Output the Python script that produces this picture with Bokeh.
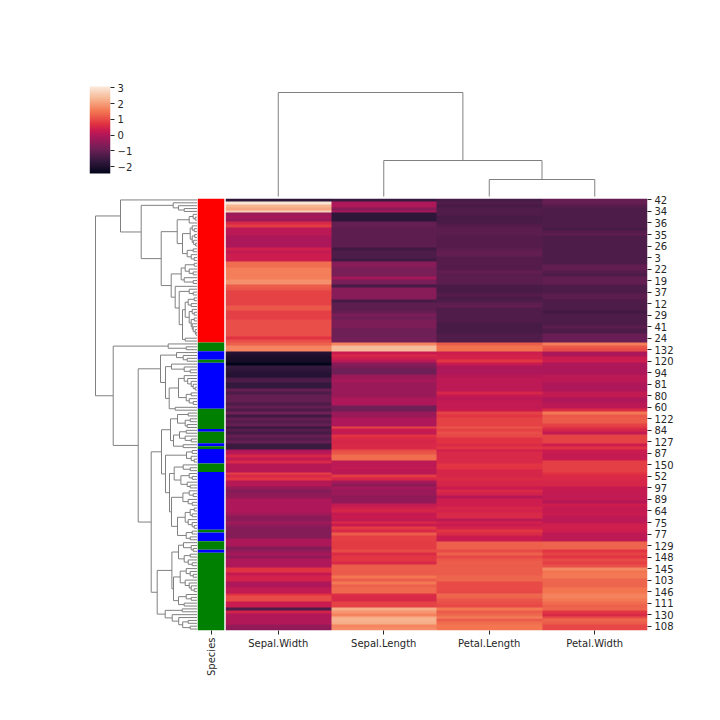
from bokeh.plotting import figure
from bokeh.layouts import column, row
from bokeh.models import Range1d, FactorRange, FixedTicker, LinearColorMapper
from bokeh.embed import file_html
from bokeh.resources import INLINE
import numpy as np
import math

columns = ["Sepal.Width", "Sepal.Length", "Petal.Length", "Petal.Width"]

sepal_width = [
 -1.75,3.0,2.3,2.1,2.7,-0.3,-0.15,-0.3,0.55,0.8,
 0.1,0.1,0.1,-0.1,-0.1,-0.1,-0.1,0.4,0.2,0.35,
 .35,.35,1.4,1.4,1.6,1.6,1.6,1.6,1.85,1.85,
 1.2,1.1,.9,.9,.9,.9,.9,1.15,1.15,.85,
 .85,.85,1.05,1.05,1.05,1.05,1.05,1.05,.7,1.05,
 1.25,1.7,1.7,-1.9,-2.0,-2.1,-2.1,-2.43,-1.65,-1.75,
 -1.85,-1.9,-1.35,-1.3,-1.65,-1.65,-1.0,-1.3,-1.0,-1.0,
 -1.0,-1.3,-1.0,-1.3,-.85,-1.5,-1.05,-1.2,-1.0,-1.6,
 -1.2,-1.4,-1.0,-1.2,-1.0,-1.55,-1.55,-.1,.1,.5,
 .2,.55,.05,.05,.05,.85,.55,.75,.05,.05,
 -.35,-.6,-.45,-.4,-.05,-.05,-.05,-.05,-.05,-.2,
 -.5,-.5,-.2,-.4,-.6,-.6,-.6,-.6,-.1,-.1,
 -.1,-.6,-.4,-.15,-.4,-.05,-.05,-.05,.7,.7,
 .25,.45,.45,-.05,-.05,.2,.2,.65,1.0,1.0,
 .3,.3,-1.3,.45,0,0,0,0,-.35,-.45]
sepal_length = [
 -1.6,-.05,-.05,-.5,-.2,-1.75,-1.75,-1.75,-1.0,-1.0,
 -1.1,-1.1,-1.1,-1.1,-1.1,-1.1,-1.1,-1.5,-1.3,-1.3,
 -1.3,-1.5,-.55,-.55,-.75,-.75,-.75,-.2,-.75,-.75,
 -1.4,-.55,-.55,-.55,-.55,-1.4,-1.1,-1.1,-1.1,-1.0,
 -.7,-.9,-.7,-.7,-.7,-.9,-.9,-.9,-.85,-.85,
 1.7,2.4,2.4,.3,.55,.4,.1,-.55,-.7,-.9,
 -.9,-.3,-.25,-.15,-.3,-.3,-.3,-.3,-.3,-.05,
 -.05,-.05,-.85,-.85,-.3,-.3,-.05,-.05,-.05,.9,
 .3,.2,.7,.55,.5,.55,.55,1.0,1.1,1.4,
 1.4,.15,.15,.2,.1,.1,.8,.5,-.15,-.45,
 -.2,-.3,-.3,-.45,-.4,-.4,.2,.4,.5,.25,
 .3,.2,.6,.3,.8,.55,1.2,.85,.85,.8,
 .8,.8,1.0,.6,.75,.75,.55,1.2,1.2,1.15,
 1.2,1.5,1.2,1.55,1.25,1.35,1.35,.65,.55,.55,
 .9,.9,2.2,1.9,1.65,2.2,2.3,2.2,1.7,1.8]
petal_length = [
 -1.39,-1.27,-1.39,-1.27,-1.27,-1.27,-1.39,-1.39,-1.34,-1.22,
 -1.16,-1.16,-1.16,-1.22,-1.22,-1.22,-1.22,-1.16,-1.05,-1.05,
 -1.22,-1.22,-1.22,-1.22,-1.22,-1.05,-1.16,-1.16,-1.16,-1.16,
 -1.34,-1.39,-1.34,-1.22,-1.34,-1.27,-1.1,-1.05,-1.27,-1.27,
 -1.27,-1.27,-1.27,-1.39,-1.39,-1.39,-1.39,-1.27,-1.27,-1.27,
 1.2,1.45,1.45,.35,.45,.45,.75,.3,-.1,-.05,
 -.05,.05,.15,.15,.15,.15,.15,.5,.25,.1,
 .25,.2,.2,.3,.9,.75,.9,.9,.9,1.1,
 .9,1.05,.95,.7,.7,.6,.75,.4,.55,.55,
 .55,.55,.75,.7,.5,.5,.5,.6,.5,.5,
 .3,.55,.45,.05,.35,.35,.35,.5,.45,.55,
 .55,.15,.45,.3,.45,.75,.6,.3,.3,1.25,
 1.25,1.25,1.0,1.25,.95,1.15,1.2,1.2,1.2,1.2,
 1.2,1.3,1.3,1.0,1.0,1.0,.95,1.35,1.3,1.1,
 1.05,.95,1.55,1.2,1.35,1.6,1.2,1.4,1.5,1.5]
petal_width = [
 -1.0,-1.0,-1.2,-1.3,-1.3,-1.3,-1.3,-1.3,-1.3,-1.3,
 -1.4,-1.2,-1.1,-1.3,-1.3,-1.3,-1.3,-1.3,-1.3,-1.3,
 -1.3,-1.3,-1.3,-1.05,-1.05,-1.2,-1.3,-1.05,-1.05,-1.05,
 -1.3,-1.3,-1.3,-1.15,-1.15,-1.3,-1.3,-1.3,-1.3,-1.45,
 -1.3,-1.3,-1.3,-1.3,-1.15,-1.3,-1.3,-.95,-.95,-.95,
 1.6,1.15,1.0,-.1,-.1,.3,.35,-.05,-.1,-.1,
 -.1,.1,.1,.1,-.05,-.05,-.05,.2,.2,-.05,
 -.05,.1,.1,.6,1.55,1.15,1.2,1.2,.9,.75,
 .5,.2,.9,.9,.9,.35,.7,.3,.3,.2,
 .3,.85,.85,.85,.85,.7,.6,.55,.5,.5,
 .25,.25,.2,.2,.2,.05,.35,.25,.25,.3,
 .15,.15,.15,.4,.4,.35,.15,.15,.15,1.3,
 1.3,1.3,.75,.9,.75,1.0,.85,1.05,1.75,1.45,
 1.55,1.55,1.3,1.3,1.3,1.5,1.5,1.65,1.65,1.55,
 1.4,1.25,1.3,.75,.55,1.0,1.3,1.2,.95,.95]

species_runs = [("setosa",50),("virginica",3),("versicolor",3),("virginica",1),("versicolor",16),
                ("virginica",7),("versicolor",1),("virginica",4),("versicolor",1),("virginica",1),
                ("versicolor",5),("virginica",3),("versicolor",20),("virginica",1),("versicolor",3),
                ("virginica",3),("versicolor",1),("virginica",27)]
species_colors = {"setosa":"#ff0000","versicolor":"#0000ff","virginica":"#008000"}

row_labels = ["42","34","36","35","26","3","22","19","37","12","29","41","24","132","120","94","81","80","60",
              "122","84","127","87","150","52","97","89","64","75","77","129","148","145","103","146","111","130","108"]

# dendrograms: [merge height, upper child, lower child]; 1 is a leaf
setosa_a = [20,[8,[4,1,[2,1,1]],1],
            [14.7,[7,[5,1,[3,1,1]],[5,[2.5,1,1],[3.5,1,[1.5,1,1]]]],
                  [10,[4,1,1],[6,1,[3,1,1]]]]]
setosa_b = [26,[16,[12,[3,1,1],[8,1,[4,1,1]]],[13,1,[4,1,1]]],
            [22,1,[18,[8,1,[4,1,1]],
                   [14.7,[12,[9,[3,1,1],[6,1,1]],
                          [8,[5,1,[3,1,1]],[6,[3,1,1],[5,1,[4,1,[2,1,[1.2,1,1]]]]]]],
                         [12,1,1]]]]]
setosa = [76.7,1,[56,[24,1,[18.7,1,[13,1,1]]],[36,setosa_a,setosa_b]]]

group_f = [36.7,[20.7,1,[14,1,[10,1,1]]],
           [31.7,[25.7,1,[13,1,[7,1,1]]],
            [28,[18.7,[13,1,[9.5,1,[6,1,[4,1,[2,1,1]]]]],[11,[6,1,1],[8,1,[4,1,1]]]],[22,1,1]]]]
group_g1 = [35.7,
            [26.7,[19.7,[9,1,1],[12,[7,1,1],[10,1,1]]],
                  [23.7,[17.7,[11,1,1],[12,1,[6,1,1]]],[14,1,1]]],
            [31.7,[10.7,[5,1,1],[6,1,[3,1,1]]],
             [27.7,[23,[14,1,[7,1,1]],[16.3,[8,1,[5,1,1]],[10,1,[7,1,1]]]],
              [25.7,[14.3,[8,1,[4,1,1]],[9,1,[5,1,1]]],
               [19.7,[12,[7,[3,1,1],[5,1,1]],[9,1,[5,1,[3,1,1]]]],[11,[5,1,1],[7,1,1]]]]]]]
group_g2 = [40,
            [25.3,[18.7,[13.7,1,[6,1,[4,1,1]]],[13,[7,1,1],[9,1,[5,1,1]]]],
                  [23.7,[17,[11,1,[7,1,[4,1,1]]],[12,1,[8,1,[6,1,[3,1,1]]]]],
                        [18.7,[11,1,[6,1,1]],[13,1,1]]]],
            [32,[15,1,1],[25,1,[18.5,1,[14.5,[9,1,1],[7,1,1]]]]]]
others = [84,[29,1,[11,1,1]],[59,group_f,[46,group_g1,group_g2]]]
row_tree = [101.7,setosa,others]
column_tree = [104,1,[36,1,[17,1,1]]]

vmin, vmax = -2.43, 3.08
colorbar_ticks = [-2,-1,0,1,2,3]
colorbar_labels = ["\u22122","\u22121","0","1","2","3"]

ROCKET_T = [0,1/7,2/7,3/7,0.5,4/7,5/7,6/7,1]
ROCKET_HEX = ["#03051a","#35193e","#701f57","#ad1759","#cb1b4f","#e13342","#f37651","#f6b48f","#faebdd"]
def make_palette(n=256):
    rgb = np.array([[int(h[i:i+2],16) for i in (1,3,5)] for h in ROCKET_HEX],float)
    ts = np.linspace(0,1,n)
    ch = [np.interp(ts,ROCKET_T,rgb[:,k]) for k in range(3)]
    return ["#%02x%02x%02x"%(int(round(a)),int(round(b)),int(round(c))) for a,b,c in zip(*ch)]
mapper = LinearColorMapper(palette=make_palette(), low=vmin, high=vmax)

GREY = "#808080"
INK = "#262626"
PAD_TOP = 6   # room above the lower row, so the first row label is not pushed down

def tree_segments(node):
    """Returns end points (height, position) of the straight pieces of a dendrogram."""
    h0, p0, h1, p1 = [], [], [], []
    counter = [0]
    def walk(n):
        if n == 1:
            counter[0] += 1
            return counter[0]-0.5, 0.0
        h, a, b = n
        pa, ha = walk(a)
        pb, hb = walk(b)
        for s in ((ha,pa,h,pa),(h,pa,h,pb),(h,pb,hb,pb)):
            h0.append(s[0]); p0.append(s[1]); h1.append(s[2]); p1.append(s[3])
        return (pa+pb)/2, h
    walk(node)
    return h0, p0, h1, p1, counter[0]

def style_axis(ax):
    ax.axis_line_color = None
    ax.major_tick_in = 0
    ax.major_tick_out = 4
    ax.minor_tick_out = 0
    ax.minor_tick_in = 0
    ax.major_tick_line_color = INK
    ax.major_label_text_color = INK
    ax.major_label_text_font = "DejaVu Sans"
    ax.major_label_text_font_size = "10px"
    ax.major_label_standoff = 3

# colour bar: its frame is as tall as the dendrogram's, since a row lines up its frames
px_per_unit = 87 / (vmax - vmin)
cb = figure(output_backend="svg", toolbar_location=None, width=159, height=198, frame_width=21, frame_height=180,
            min_border_left=89, min_border_right=49, min_border_top=18, min_border_bottom=0,
            x_range=Range1d(0,1), y_range=Range1d(vmin - 25/px_per_unit, vmax + 68/px_per_unit),
            x_axis_type=None, y_axis_location="right", outline_line_color=None)
cb.grid.visible = False
cb.image(image=[np.linspace(vmin,vmax,256).reshape(-1,1)], x=0, y=vmin, dw=1, dh=vmax-vmin, color_mapper=mapper)
cb.yaxis.ticker = FixedTicker(ticks=colorbar_ticks)
cb.yaxis.major_label_overrides = dict(zip(colorbar_ticks, colorbar_labels))
style_axis(cb.yaxis[0])

# top dendrogram
h0t, p0t, h1t, p1t, n_cols = tree_segments(column_tree)
top_fig = figure(output_backend="svg", toolbar_location=None, x_axis_type=None, y_axis_type=None,
                 outline_line_color=None, width=552, height=198, frame_width=422, frame_height=180,
                 min_border_left=66, min_border_right=64, min_border_top=18, min_border_bottom=0,
                 x_range=Range1d(0,4), y_range=Range1d(-2,178))
top_fig.grid.visible = False
top_fig.segment(x0=p0t, y0=h0t, x1=p1t, y1=h1t, line_color=GREY, line_width=1)

# left dendrogram
left = figure(output_backend="svg", toolbar_location=None, x_axis_type=None, y_axis_type=None,
              outline_line_color=None, border_fill_color=None, width=197, height=502+PAD_TOP,
              frame_width=197, frame_height=432,
              min_border_left=0, min_border_right=0, min_border_top=PAD_TOP, min_border_bottom=70,
              x_range=Range1d(196.7,-0.3), y_range=Range1d(150,0))
left.grid.visible = False
h0, p0, h1, p1, n_rows = tree_segments(row_tree)
left.segment(x0=h0, y0=p0, x1=h1, y1=p1, line_color=GREY, line_width=1)

# species strip
assert sum(c for _, c in species_runs) == 150 and n_rows == 150
for v in (sepal_width, sepal_length, petal_length, petal_width):
    assert len(v) == 150, len(v)
sp = figure(output_backend="svg", toolbar_location=None, width=28, height=502+PAD_TOP, frame_width=27, frame_height=432,
            min_border_left=0, min_border_right=1, min_border_top=PAD_TOP, min_border_bottom=70,
            border_fill_color=None,
            x_range=FactorRange("Species"), y_range=Range1d(150,0), y_axis_type=None, outline_line_color=None)
sp.x_range.range_padding = 0
sp.grid.visible = False
edges = np.cumsum([0]+[c for _, c in species_runs])
sp.vbar(x=["Species"]*len(species_runs), width=1, bottom=edges[:-1], top=edges[1:],
        fill_color=[species_colors[s] for s, _ in species_runs], line_color=None)
style_axis(sp.xaxis[0])
sp.xaxis.major_label_orientation = math.pi/2

# heat map
matrix = np.array([sepal_width, sepal_length, petal_length, petal_width], float).T
hm = figure(output_backend="svg", toolbar_location=None, width=486, height=502+PAD_TOP, frame_width=422, frame_height=432,
            min_border_left=0, min_border_right=64, min_border_top=PAD_TOP, min_border_bottom=70,
            border_fill_color=None,
            x_range=Range1d(0,4), y_range=Range1d(150,0), y_axis_location="right", outline_line_color=None)
hm.grid.visible = False
hm.image(image=[matrix], x=0, y=0, dw=4, dh=150, color_mapper=mapper)
col_ticks = [0.5,1.5,2.5,3.5]
hm.xaxis.ticker = FixedTicker(ticks=col_ticks)
hm.xaxis.major_label_overrides = dict(zip(col_ticks, columns))
tick_rows = [4*i+0.5 for i in range(len(row_labels))]
hm.yaxis.ticker = FixedTicker(ticks=tick_rows)
hm.yaxis.major_label_overrides = dict(zip(tick_rows, row_labels))
style_axis(hm.xaxis[0]); style_axis(hm.yaxis[0])

page = column(row(cb, top_fig, spacing=0),
              row(left, sp, hm, spacing=0, margin=(-PAD_TOP,0,0,0)), spacing=0)
open("out.html","w").write(file_html(page, INLINE))
